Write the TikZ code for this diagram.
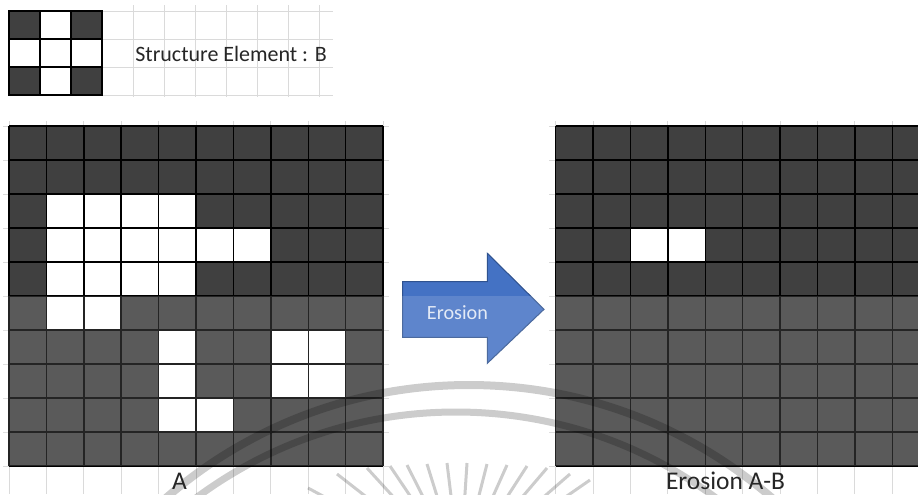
\documentclass[tikz,border=0pt]{standalone}
\usepackage{fontspec}
\setmainfont{Carlito}
\usepackage{tikz}
\usetikzlibrary{calc}
\definecolor{MGDark}{HTML}{404040}
\definecolor{MGSheet}{HTML}{DADADA}
\definecolor{MGBlue}{HTML}{4472C4}
\definecolor{MGBlueEdge}{HTML}{2F528F}
\definecolor{MGText}{HTML}{262626}
\definecolor{MGLabel}{HTML}{E3EAF6}

\begin{document}
\begin{tikzpicture}[x=0.02cm,y=-0.02cm,
  sheet/.style={MGSheet,line width=0.5pt},
  cellline/.style={black,line width=0.8pt},
  seal/.style={black,opacity=0.2},
  caption/.style={MGText,inner sep=0pt,text depth=0pt,anchor=base,font=\fontsize{14.5}{17}\selectfont}]
\path[use as bounding box] (0,0) rectangle (918,494);
\clip (0,0) rectangle (918,494);
\fill[white] (0,0) rectangle (918,494);
% spreadsheet lines beside B
\foreach \k in {1,...,7} \draw[sheet] (102+31*\k,5) -- (102+31*\k,97);
\foreach \y in {11,39,67,95} \draw[sheet] (102,\y) -- (333,\y);
% structure element B
\fill[MGDark] (9,11) rectangle (40,39);
\fill[MGDark] (71,11) rectangle (102,39);
\fill[MGDark] (9,67) rectangle (40,95);
\fill[MGDark] (71,67) rectangle (102,95);
\draw[cellline,line width=0.6pt] (9,11) rectangle (102,95);
\foreach \x in {40,71} \draw[cellline,line width=0.6pt] (\x,11) -- (\x,95);
\foreach \y in {39,67} \draw[cellline,line width=0.6pt] (9,\y) -- (102,\y);
% image A
\foreach \i in {0,...,10} \draw[sheet] (9+37.4*\i,121) -- (9+37.4*\i,494);
\foreach \j in {0,...,10} \draw[sheet] (3,126+34*\j) -- (389,126+34*\j);
\fill[MGDark] (9,126) rectangle (383,466);
\fill[white] (46.4,194) rectangle (196,296);
\fill[white] (196,228) rectangle (270.8,262);
\fill[white] (46.4,296) rectangle (121.2,330);
\fill[white] (158.6,330) rectangle (196,432);
\fill[white] (270.8,330) rectangle (345.6,398);
\fill[white] (196,398) rectangle (233.4,432);
\foreach \i in {0,...,10} \draw[cellline] (9+37.4*\i,126) -- (9+37.4*\i,466);
\foreach \j in {0,...,10} \draw[cellline] (9,126+34*\j) -- (383,126+34*\j);
% result A-B
\foreach \i in {0,...,10} \draw[sheet] (555.7+37.4*\i,121) -- (555.7+37.4*\i,494);
\foreach \j in {0,...,10} \draw[sheet] (549,126+34*\j) -- (918,126+34*\j);
\fill[MGDark] (555.7,126) rectangle (929.7,466);
\fill[white] (630.5,228) rectangle (705.3,262);
\foreach \i in {0,...,10} \draw[cellline] (555.7+37.4*\i,126) -- (555.7+37.4*\i,466);
\foreach \j in {0,...,10} \draw[cellline] (555.7,126+34*\j) -- (929.7,126+34*\j);
% arrow
\filldraw[fill=MGBlue,draw=MGBlueEdge,line width=0.6pt,line join=miter]
  (402.7,281.7) -- (487.3,281.7) -- (487.3,253.3) -- (544,309.3)
  -- (487.3,363.3) -- (487.3,337.3) -- (402.7,337.3) -- cycle;
% lighter lower band
\fill[white,opacity=0.14] (0,296) rectangle (918,466);
% seal in the background
\draw[seal,line width=0.16cm] (469,848) circle[radius=463];
\draw[seal,line width=0.14cm] (456,848) circle[radius=436];
\foreach \p in {{308,488},{337,474},{367,468},{390,466},{407,465},{427,464},{447,463},
  {467,463},{487,464},{507,465},{527,466},{547,468},{570,474},{590,480}}
  \draw[seal,line width=0.06cm] (\p) -- ($(\p)!0.45!(460,570)$);
% texts
\node[MGLabel,inner sep=0pt,anchor=base,font=\fontsize{11.5}{14}\selectfont] (erosion) at (457.5,319.3) {Erosion};
\node[MGText,inner sep=0pt,anchor=base west,font=\fontsize{12.5}{15}\selectfont] (selabel) at (135,61.7) {Structure Element : B};
\node[caption] (capA) at (179.5,489) {A};
\node[caption] (capAB) at (725.5,489) {Erosion A-B};
\end{tikzpicture}
\end{document}
